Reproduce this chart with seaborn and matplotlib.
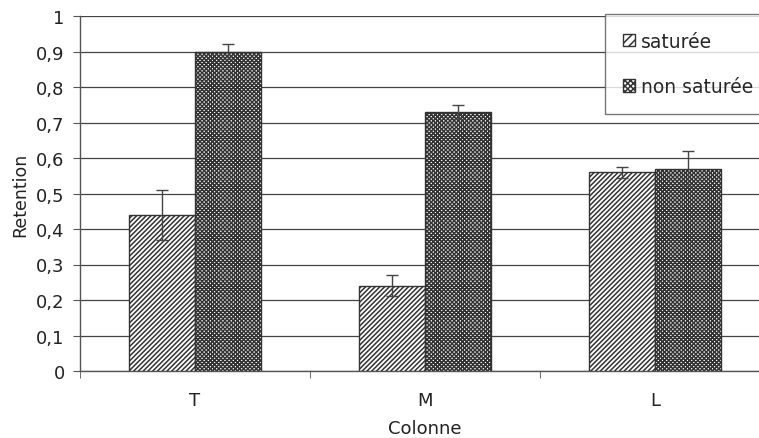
import matplotlib
matplotlib.use("Agg")
import matplotlib.pyplot as plt
import seaborn as sns
import pandas as pd
import numpy as np
from matplotlib.ticker import FuncFormatter, MultipleLocator, FixedLocator
from matplotlib.patches import Patch

categories = ["T", "M", "L"]
series = ["saturée", "non saturée"]
saturee = [0.44, 0.24, 0.56]
non_saturee = [0.90, 0.73, 0.57]
err_saturee = [0.07, 0.03, 0.015]
err_non_saturee = [0.02, 0.02, 0.05]

df = pd.DataFrame({
    "Colonne": categories * 2,
    "Retention": saturee + non_saturee,
    "Type": [series[0]] * 3 + [series[1]] * 3,
})
errs = err_saturee + err_non_saturee

sns.set_style("white")
plt.rcParams["font.family"] = ["DejaVu Sans"]
plt.rcParams["hatch.linewidth"] = 1.1
plt.rcParams["hatch.color"] = "#333333"

fig = plt.figure(figsize=(7.59, 4.39), dpi=100)
ax = fig.add_axes([80 / 759, 1 - 372 / 439, 690 / 759, 355 / 439])

sns.barplot(data=df, x="Colonne", y="Retention", hue="Type", order=categories,
            hue_order=series, width=0.577, gap=0, palette=["white", "white"],
            edgecolor="#333333", linewidth=1.0, errorbar=None, ax=ax, legend=False,
            zorder=3)

hatches = ["/" * 7, "x" * 8]
for i, patch in enumerate(ax.patches[:6]):
    patch.set_hatch(hatches[i // 3])
    patch.set_edgecolor("#333333")

xs = [p.get_x() + p.get_width() / 2 for p in ax.patches[:6]]
ys = [p.get_height() for p in ax.patches[:6]]
ax.errorbar(xs, ys, yerr=errs, fmt="none", ecolor="#444444", elinewidth=1.0,
            capsize=4, capthick=1.0, zorder=4)

ax.set_ylim(0, 1)
ax.set_xlim(-0.5, 2.5)
ax.yaxis.set_major_locator(MultipleLocator(0.1))
ax.yaxis.set_major_formatter(FuncFormatter(lambda v, p: ("%g" % round(v, 2)).replace(".", ",")))
ax.grid(axis="y", color="#444444", linewidth=0.9, zorder=0)
ax.set_axisbelow(True)
for s in ["top", "right"]:
    ax.spines[s].set_visible(False)
for s in ["left", "bottom"]:
    ax.spines[s].set_color("#555555")
    ax.spines[s].set_linewidth(1.0)
ax.tick_params(axis="y", which="major", left=True, length=5, color="#555555",
               labelsize=13, labelcolor="#222222", pad=6)
ax.tick_params(axis="x", which="major", bottom=False, labelsize=13,
               labelcolor="#222222", pad=11)
ax.xaxis.set_minor_locator(FixedLocator([-0.5, 0.5, 1.5, 2.5]))
ax.tick_params(axis="x", which="minor", bottom=True, length=5, color="#555555")
ax.set_xlabel("Colonne", fontsize=13, color="#222222", labelpad=7)
ax.set_ylabel("Retention", fontsize=12.5, color="#222222", labelpad=5)

handles = [Patch(facecolor="white", edgecolor="#333333", hatch=h, label=s)
           for h, s in zip(["/" * 4, "x" * 6], series)]
leg = ax.legend(handles=handles, loc="upper left", bbox_to_anchor=(0.761, 1.006),
                frameon=True, fancybox=False, edgecolor="#555555", fontsize=13.5,
                handlelength=0.65, handleheight=0.65, handletextpad=0.3,
                labelspacing=1.4, borderpad=0.95, borderaxespad=0)
leg.get_frame().set_linewidth(1.0)

fig.savefig("out.png", dpi=100)
